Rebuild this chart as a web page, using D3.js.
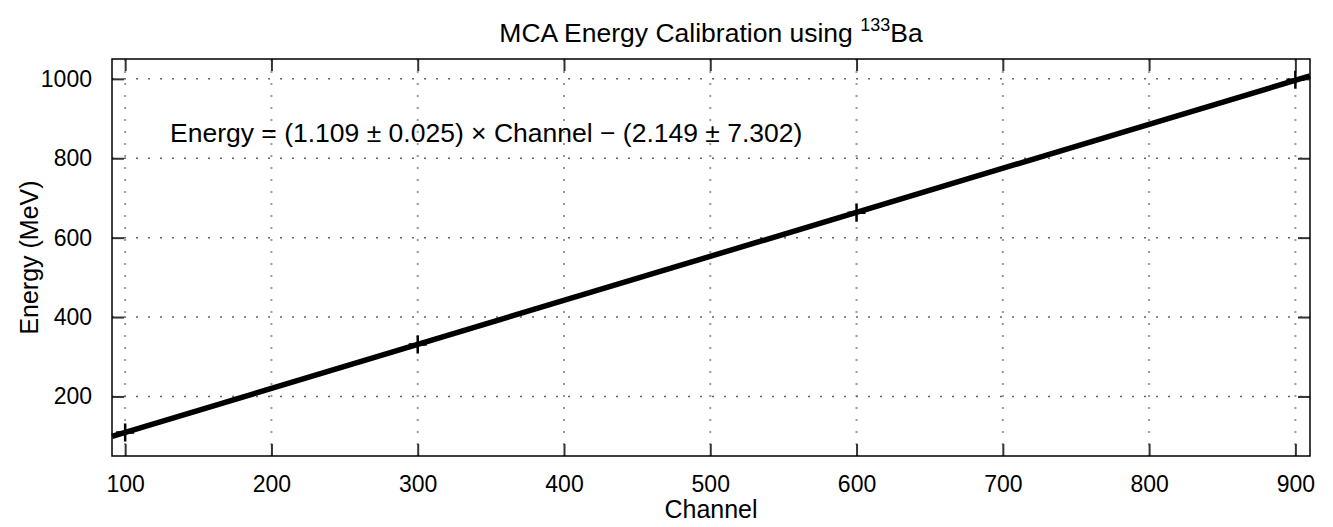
<!DOCTYPE html>
<html>
<head>
<meta charset="utf-8">
<script src="https://cdn.jsdelivr.net/npm/d3@7"></script>
<style>
  html, body { margin: 0; padding: 0; background: #fff; }
  text { font-family: "Liberation Sans", Arial, Helvetica, sans-serif; fill: #000; }
</style>
</head>
<body>
<svg id="chart" width="1333" height="527"></svg>
<script>
// measured calibration points
const channels = [100, 300, 600, 900];
const energies = [109, 331, 663, 998];

// fitted line, end points
const fitChannels = [91, 910];
const fitEnergies = [99.5, 1007.5];

const xTicks = [100, 200, 300, 400, 500, 600, 700, 800, 900];
const yTicks = [200, 400, 600, 800, 1000];

const svg = d3.select("#chart");
const width = +svg.attr("width");
const height = +svg.attr("height");
const margin = { top: 59, right: 23, bottom: 71, left: 112 };

const x = d3.scaleLinear().domain([91, 910]).range([margin.left, width - margin.right]);
const y = d3.scaleLinear().domain([50, 1050]).range([height - margin.bottom, margin.top]);

const plotW = width - margin.left - margin.right;
const plotH = height - margin.top - margin.bottom;

// grid lines
const grid = svg.append("g").attr("class", "grid");
grid.selectAll("line.gx")
  .data(xTicks)
  .join("line")
  .attr("class", "gx")
  .attr("x1", d => x(d)).attr("x2", d => x(d))
  .attr("y1", margin.top).attr("y2", margin.top + plotH)
  .attr("stroke", "#999")
  .attr("stroke-width", 2)
  .attr("stroke-dasharray", "2,10");

grid.selectAll("line.gy")
  .data(yTicks)
  .join("line")
  .attr("class", "gy")
  .attr("x1", margin.left).attr("x2", margin.left + plotW)
  .attr("y1", d => y(d)).attr("y2", d => y(d))
  .attr("stroke", "#666")
  .attr("stroke-width", 1.5)
  .attr("stroke-dasharray", "2,10");

// axes (ticks inward, on all four sides)
const tickLen = 12;
const xAxis = svg.append("g")
  .attr("transform", `translate(0,${margin.top + plotH})`)
  .call(d3.axisBottom(x).tickValues(xTicks).tickSize(-tickLen).tickPadding(tickLen + 8));
const xAxisTop = svg.append("g")
  .attr("transform", `translate(0,${margin.top})`)
  .call(d3.axisTop(x).tickValues(xTicks).tickSize(-tickLen).tickFormat(""));
const yAxis = svg.append("g")
  .attr("transform", `translate(${margin.left},0)`)
  .call(d3.axisLeft(y).tickValues(yTicks).tickSize(-tickLen).tickFormat(d3.format("d")).tickPadding(tickLen + 8));
const yAxisRight = svg.append("g")
  .attr("transform", `translate(${margin.left + plotW},0)`)
  .call(d3.axisRight(y).tickValues(yTicks).tickSize(-tickLen).tickFormat(""));

[xAxis, xAxisTop, yAxis, yAxisRight].forEach(a => {
  a.select(".domain").remove();
  a.selectAll(".tick line").attr("stroke", "#333").attr("stroke-width", 2);
  a.selectAll(".tick text").style("font-size", "23px");
});

// fit line
svg.append("path")
  .datum(fitChannels.map((c, i) => [c, fitEnergies[i]]))
  .attr("fill", "none")
  .attr("stroke", "#000")
  .attr("stroke-width", 5.5)
  .attr("d", d3.line().x(d => x(d[0])).y(d => y(d[1])));

// "+" markers
const mk = 9;
svg.append("g")
  .selectAll("path")
  .data(channels.map((c, i) => [c, energies[i]]))
  .join("path")
  .attr("d", d => {
    const px = x(d[0]), py = y(d[1]);
    return `M${px - mk},${py}H${px + mk}M${px},${py - mk}V${py + mk}`;
  })
  .attr("stroke", "#000")
  .attr("stroke-width", 2.5);

// frame
svg.append("rect")
  .attr("x", margin.left).attr("y", margin.top)
  .attr("width", plotW).attr("height", plotH)
  .attr("fill", "none")
  .attr("stroke", "#000")
  .attr("stroke-width", 1.5);

// fit annotation
svg.append("text")
  .attr("x", 170)
  .attr("y", 142)
  .style("font-size", "26.5px")
  .text("Energy = (1.109 \u00b1 0.025) \u00d7 Channel \u2212 (2.149 \u00b1 7.302)");

// title
const title = svg.append("text")
  .attr("x", margin.left + plotW / 2)
  .attr("y", 42)
  .attr("text-anchor", "middle")
  .style("font-size", "26.5px");
title.append("tspan").text("MCA Energy Calibration using ");
title.append("tspan").attr("dy", -11).style("font-size", "18px").text("133");
title.append("tspan").attr("dy", 11).text("Ba");

// axis labels
svg.append("text")
  .attr("x", margin.left + plotW / 2)
  .attr("y", 518)
  .attr("text-anchor", "middle")
  .style("font-size", "25px")
  .text("Channel");

svg.append("text")
  .attr("transform", `translate(38,${margin.top + plotH / 2}) rotate(-90)`)
  .attr("text-anchor", "middle")
  .style("font-size", "25px")
  .text("Energy (MeV)");
</script>
</body>
</html>
